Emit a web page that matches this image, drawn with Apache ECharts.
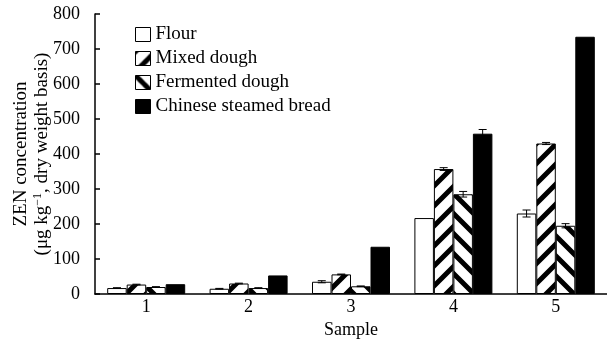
<!DOCTYPE html>
<html>
<head>
<meta charset="utf-8">
<script src="https://cdn.jsdelivr.net/npm/echarts@6/dist/echarts.min.js"></script>
<style>html,body{margin:0;padding:0;background:#fff}#c{width:607px;height:344px}</style>
</head>
<body>
<div id="c"></div>
<script>
const categories = ['1', '2', '3', '4', '5'];
const seriesNames = ['Flour', 'Mixed dough', 'Fermented dough', 'Chinese steamed bread'];
const flour = [17, 15, 35, 217, 230];
const mixedDough = [27, 30, 56, 357, 430];
const fermentedDough = [20, 17, 22, 285, 195];
const steamedBread = [28, 53, 135, 458, 735];
const flourErr = [1, 1, 3, 0, 10];
const mixedErr = [1, 1, 1, 4, 3];
const fermentedErr = [1, 1, 1, 8, 6];
const breadErr = [0, 0, 0, 12, 0];
const yTicks = [0, 100, 200, 300, 400, 500, 600, 700, 800];

const FONT = 'Liberation Serif';
const BW = 19.5;

function stripe(dir) {
  const c = document.createElement('canvas');
  c.width = c.height = 20;
  const g = c.getContext('2d');
  g.fillStyle = '#fff'; g.fillRect(0, 0, 20, 20);
  g.strokeStyle = '#000'; g.lineWidth = 5; g.beginPath();
  if (dir > 0) {
    g.moveTo(-5, 25); g.lineTo(25, -5);
    g.moveTo(-5, 5); g.lineTo(5, -5);
    g.moveTo(15, 25); g.lineTo(25, 15);
  } else {
    g.moveTo(-5, -5); g.lineTo(25, 25);
    g.moveTo(15, -5); g.lineTo(25, 5);
    g.moveTo(-5, 15); g.lineTo(5, 25);
  }
  g.stroke();
  return c;
}

const chart = echarts.init(document.getElementById('c'), null, {renderer: 'canvas'});

function barSeries(name, data, color) {
  return {
    name, type: 'bar', data, barWidth: BW, barGap: '0%',
    itemStyle: {color, borderColor: '#000', borderWidth: 1},
    emphasis: {disabled: true}
  };
}

function errSeries(vals, errs, idx) {
  const offset = (idx - 1.5) * BW;
  return {
    type: 'custom', silent: true, z: 10,
    data: vals.map((v, i) => [i, v, errs[i]]),
    renderItem(params, api) {
      const i = api.value(0), v = api.value(1), e = api.value(2);
      if (!e) return null;
      const top = api.coord([i, v + e]);
      const bot = api.coord([i, v - e]);
      const x = top[0] + offset;
      const st = {stroke: '#000', lineWidth: 1};
      return {type: 'group', children: [
        {type: 'line', shape: {x1: x, y1: top[1], x2: x, y2: bot[1]}, style: st},
        {type: 'line', shape: {x1: x - 4, y1: top[1], x2: x + 4, y2: top[1]}, style: st},
        {type: 'line', shape: {x1: x - 4, y1: bot[1], x2: x + 4, y2: bot[1]}, style: st}
      ]};
    }
  };
}

chart.setOption({
  animation: false,
  textStyle: {fontFamily: FONT, color: '#000'},
  grid: {left: 95, right: 0, top: 14, bottom: 50, containLabel: false, outerBoundsMode: 'none'},
  legend: {
    orient: 'vertical', left: 130, top: 20, itemWidth: 15, itemHeight: 14, itemGap: 5,
    icon: 'rect', selectedMode: false,
    data: seriesNames,
    textStyle: {fontFamily: FONT, fontSize: 19, color: '#000'},
    itemStyle: {borderColor: '#000', borderWidth: 1}
  },
  xAxis: {
    type: 'category', data: categories, boundaryGap: true,
    name: 'Sample', nameLocation: 'middle', nameGap: 25,
    nameTextStyle: {fontFamily: FONT, fontSize: 18, color: '#000'},
    axisLine: {lineStyle: {color: '#000', width: 1.5}},
    axisTick: {inside: true, length: 5, lineStyle: {color: '#000', width: 1.5}},
    axisLabel: {fontFamily: FONT, fontSize: 18, color: '#000', margin: 4}
  },
  yAxis: {
    type: 'value', min: 0, max: 800, interval: 100,
    name: '{a|ZEN concentration}\n{a|(μg kg}{s|−1}{a|, dry weight basis)}',
    nameLocation: 'middle', nameRotate: 90, nameGap: 42, nameMoveOverlap: false,
    nameTextStyle: {
      fontFamily: FONT, color: '#000',
      rich: {
        a: {fontFamily: FONT, fontSize: 19, lineHeight: 21, color: '#000'},
        s: {fontFamily: FONT, fontSize: 12, lineHeight: 12, verticalAlign: 'top', color: '#000'}
      }
    },
    axisLine: {show: true, lineStyle: {color: '#000', width: 1.5}},
    axisTick: {show: true, inside: true, length: 5, lineStyle: {color: '#000', width: 1.5}},
    splitLine: {show: false},
    axisLabel: {fontFamily: FONT, fontSize: 18, color: '#000', margin: 15,
      formatter: v => yTicks.includes(v) ? String(v) : ''}
  },
  series: [
    barSeries(seriesNames[0], flour, '#fff'),
    barSeries(seriesNames[1], mixedDough, {image: stripe(1), repeat: 'repeat'}),
    barSeries(seriesNames[2], fermentedDough, {image: stripe(-1), repeat: 'repeat'}),
    barSeries(seriesNames[3], steamedBread, '#000'),
    errSeries(flour, flourErr, 0),
    errSeries(mixedDough, mixedErr, 1),
    errSeries(fermentedDough, fermentedErr, 2),
    errSeries(steamedBread, breadErr, 3)
  ]
});
</script>
</body>
</html>
